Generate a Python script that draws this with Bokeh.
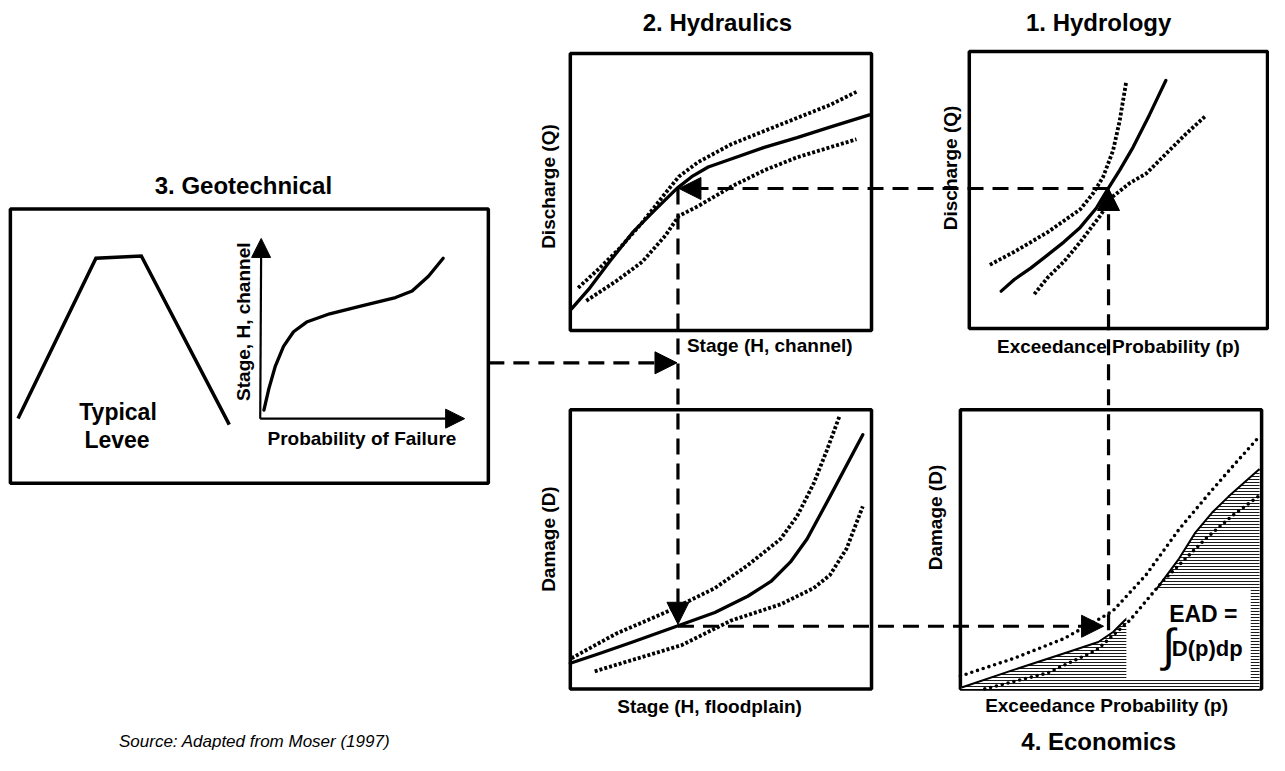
import numpy as np
from bokeh.plotting import figure
from bokeh.models import Range1d, Arrow, NormalHead
from bokeh.core.properties import value
from bokeh.embed import file_html
from bokeh.resources import INLINE

# ---------------- DATA (each panel in its own units, 0..10 on both axes) ----------------
# 1. Hydrology : discharge Q vs exceedance probability p
hydro_p    = [1.07, 1.51, 2.06, 2.62, 3.17, 3.72, 4.27, 4.66, 5.04, 5.49, 6.04, 6.59]
hydro_q    = [1.35, 1.77, 2.18, 2.65, 3.12, 3.65, 4.36, 5.06, 5.71, 6.54, 7.71, 8.95]
hydro_hi_p = [0.69, 1.51, 2.62, 3.72, 4.16, 4.49, 4.82, 5.04, 5.26]
hydro_hi_q = [2.30, 2.77, 3.47, 4.30, 4.89, 5.48, 6.42, 7.48, 8.89]
hydro_lo_p = [2.18, 2.62, 3.17, 3.72, 4.38, 4.82, 5.37, 5.93, 6.59, 7.25, 7.91]
hydro_lo_q = [1.24, 1.83, 2.41, 3.12, 4.06, 4.77, 5.24, 5.59, 6.30, 7.01, 7.66]

# 2. Hydraulics : discharge Q vs stage H (channel)
hydra_h    = [0.04, 0.65, 1.30, 2.07, 2.83, 3.54, 4.03, 4.58, 5.34, 6.44, 7.53, 8.62, 9.93]
hydra_q    = [0.78, 1.54, 2.48, 3.54, 4.37, 5.13, 5.55, 5.90, 6.19, 6.61, 6.96, 7.34, 7.78]
hydra_hi_h = [0.26, 0.97, 1.63, 2.39, 3.16, 3.60, 4.25, 5.34, 6.44, 7.53, 8.62, 9.50]
hydra_hi_q = [1.54, 2.25, 2.96, 3.90, 4.96, 5.55, 6.08, 6.72, 7.20, 7.67, 8.14, 8.61]
hydra_lo_h = [0.53, 1.52, 2.39, 3.16, 3.60, 4.25, 5.34, 6.44, 7.53, 8.62, 9.50]
hydra_lo_q = [1.07, 1.78, 2.48, 3.43, 4.13, 4.49, 5.19, 5.78, 6.25, 6.61, 6.90]

# 3. Geotechnical : levee cross-section and fragility curve
levee_x = [0.16, 1.79, 2.74, 4.58]
levee_y = [2.36, 8.21, 8.29, 2.14]
frag_p  = [0.18, 0.42, 0.74, 1.14, 1.63, 2.27, 3.40, 5.01, 6.62, 7.43, 8.23, 8.95]
frag_h  = [0.47, 1.65, 2.92, 4.01, 4.82, 5.36, 5.82, 6.27, 6.72, 7.08, 7.90, 8.90]

# 4. Damage vs stage (floodplain)
dmg_h    = [0.00, 0.97, 2.07, 3.60, 4.80, 5.89, 6.66, 7.31, 7.86, 8.62, 9.71]
dmg_d    = [0.92, 1.27, 1.68, 2.27, 2.74, 3.32, 3.85, 4.55, 5.37, 6.89, 9.11]
dmg_hi_h = [0.04, 1.52, 3.16, 4.80, 5.89, 6.98, 7.53, 8.08, 8.51, 8.95]
dmg_hi_d = [1.10, 1.98, 2.74, 3.61, 4.43, 5.37, 6.19, 7.36, 8.53, 9.81]
dmg_lo_h = [0.81, 2.07, 3.70, 5.34, 6.98, 8.08, 8.62, 9.17, 9.71]
dmg_lo_d = [0.63, 1.04, 1.57, 2.45, 3.03, 3.61, 4.08, 5.02, 6.54]

# 4. Economics : damage vs exceedance probability (EAD = area)
ead_p    = [0.04, 1.79, 3.43, 4.58, 5.07, 5.45, 5.94, 6.49, 7.26, 7.80, 8.35, 8.90, 9.93]
ead_d    = [0.05, 0.69, 1.27, 1.68, 2.04, 2.45, 2.91, 3.55, 4.67, 5.60, 6.31, 6.89, 7.88]
ead_hi_p = [0.00, 1.79, 3.43, 4.52, 5.07, 6.16, 7.26, 8.35, 9.11, 9.93]
ead_hi_d = [0.46, 1.10, 1.80, 2.45, 2.80, 4.08, 5.72, 7.12, 8.06, 9.05]
ead_lo_p = [0.81, 2.89, 4.52, 5.62, 6.71, 8.13, 9.01, 9.88]
ead_lo_d = [0.00, 0.57, 1.39, 2.45, 3.85, 5.37, 6.19, 6.89]

titles     = ["1. Hydrology", "2. Hydraulics", "3. Geotechnical", "4. Economics"]
source_txt = "Source: Adapted from Moser (1997)"

# ---------------- LAYOUT (page pixels of the original drawing) ----------------
W, H = 1269, 755
CX = (0, 1285)
CY = (771, 0)
FRAMES = {
    "hyl":  (981, 1283, 52, 335),
    "hyd":  (577, 882, 54, 337),
    "dmg":  (577, 882, 418, 703),
    "eco":  (972, 1277, 418, 703),
    "geo":  (10, 494, 213, 493),
    "frag": (263, 470, 243, 427),
}
FONT = value("Liberation Sans")
BLACK = "black"

p = figure(width=W, height=H, x_range=Range1d(*CX), y_range=Range1d(*CY),
           x_axis_type=None, y_axis_type=None, output_backend="svg",
           toolbar_location=None, min_border=0)
p.grid.visible = False
p.outline_line_color = None
p.background_fill_color = "white"

xr, yr = {}, {}
for name, (x0, x1, y0, y1) in FRAMES.items():
    sx = (x1 - x0) / 10.0
    sy = (y1 - y0) / 10.0
    xr[name] = Range1d((CX[0] - x0) / sx, (CX[1] - x0) / sx)
    yr[name] = Range1d((y1 - CY[0]) / sy, (y1 - CY[1]) / sy)
p.extra_x_ranges = xr
p.extra_y_ranges = yr


def fr(name):
    return dict(x_range_name=name, y_range_name=name)


SOLID = dict(line_color=BLACK, line_width=3.3, line_join="round", line_cap="round")
DASHY = dict(line_color=BLACK, line_width=3.8, line_dash="3 2")
DOTS = dict(line_color=BLACK, line_width=3.6, line_dash="0 6", line_cap="round")

# ---- panel boxes
for name in ["hyl", "hyd", "dmg", "eco", "geo"]:
    p.quad(left=0, right=10, bottom=0, top=10, fill_color=None,
           line_color=BLACK, line_width=3.5, **fr(name))

# ---- 1. Hydrology
p.line(hydro_p, hydro_q, **SOLID, **fr("hyl"))
p.line(hydro_hi_p, hydro_hi_q, **DASHY, **fr("hyl"))
p.line(hydro_lo_p, hydro_lo_q, **DASHY, **fr("hyl"))

# ---- 2. Hydraulics
p.line(hydra_h, hydra_q, **SOLID, **fr("hyd"))
p.line(hydra_hi_h, hydra_hi_q, **DASHY, **fr("hyd"))
p.line(hydra_lo_h, hydra_lo_q, **DASHY, **fr("hyd"))

# ---- damage-stage
p.line(dmg_h, dmg_d, **SOLID, **fr("dmg"))
p.line(dmg_hi_h, dmg_hi_d, **DASHY, **fr("dmg"))
p.line(dmg_lo_h, dmg_lo_d, **DASHY, **fr("dmg"))

# ---- economics: hatched EAD area
area_x = ead_p + [ead_p[-1], ead_p[0]]
area_y = ead_d + [0, 0]
p.patch(area_x, area_y, fill_color="white", line_color=None,
        hatch_pattern="horizontal_line", hatch_scale=3, hatch_weight=0.9,
        hatch_color=BLACK, **fr("eco"))
p.line(ead_p, ead_d, line_color=BLACK, line_width=2, **fr("eco"))
p.quad(left=5.51, right=9.64, bottom=0.35, top=3.54, fill_color="white",
       line_color=None, **fr("eco"))
p.line(ead_hi_p, ead_hi_d, **DOTS, **fr("eco"))
p.line(ead_lo_p, ead_lo_d, **DOTS, **fr("eco"))

# ---- geotechnical
p.line(levee_x, levee_y, line_color=BLACK, line_width=3.5, line_join="miter", **fr("geo"))
p.line(frag_p, frag_h, **SOLID, **fr("frag"))

# ---- arrows
def arrow(x0, y0, x1, y1, size=22, dash="16 9", lw=3.2, **kw):
    p.add_layout(Arrow(end=NormalHead(size=size, fill_color=BLACK, line_color=BLACK, line_width=1),
                       x_start=x0, y_start=y0, x_end=x1, y_end=y1,
                       line_width=lw, line_dash=dash, line_color=BLACK, **kw))

arrow(1122, 643, 1122, 192)   # p -> Q (hydrology)
arrow(1122, 192, 687, 192)    # Q -> hydraulics
arrow(686, 192, 686, 637)     # H -> damage
arrow(686, 639, 1117, 639)    # D -> economics
arrow(494, 370, 685, 370)     # geotechnical -> stage
# fragility axes
arrow(263, 427, 264, 243, size=19, dash="solid", lw=2.2)
arrow(263, 427, 470, 427, size=19, dash="solid", lw=2.2)

# ---- texts
def txt(x, y, s, size, style="bold", angle=0.0, align="center", font=FONT):
    p.text(x=[x], y=[y], text=[s], text_font=font, text_font_style=style,
           text_font_size=size, text_align=align, text_baseline="middle",
           angle=angle, text_color=BLACK)

txt(1112, 22, titles[0], "24px")
txt(726, 22, titles[1], "24px")
txt(246, 189, titles[2], "24px")
txt(1112, 757, titles[3], "24px")
txt(120, 757, source_txt, "17px", style="italic", align="left")

txt(555, 190, "Discharge (Q)", "19px", angle=np.pi / 2)
txt(779, 352, "Stage (H, channel)", "19px")
txt(962, 171, "Discharge (Q)", "19px", angle=np.pi / 2)
txt(1132, 353, "Exceedance Probability (p)", "19px")
txt(555, 550, "Damage (D)", "19px", angle=np.pi / 2)
txt(718, 721, "Stage (H, floodplain)", "19px")
txt(947, 528, "Damage (D)", "19px", angle=np.pi / 2)
txt(1120, 720, "Exceedance Probability (p)", "19px")

txt(246, 328, "Stage, H, channel", "19px", angle=np.pi / 2)
txt(366, 447, "Probability of Failure", "19px")
txt(119, 420, "Typical", "23px")
txt(118, 449, "Levee", "23px")

txt(1218, 627, "EAD =", "23px")
txt(1183, 658, "\u222b", "46px", style="normal")
txt(1222, 662, "D(p)dp", "22px")

open("out.html", "w").write(file_html(p, INLINE))
